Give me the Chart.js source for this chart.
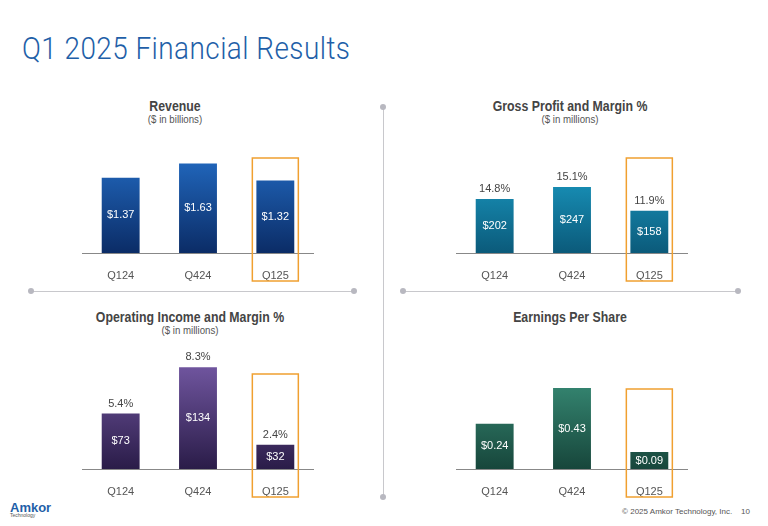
<!DOCTYPE html>
<html lang="en">
<head>
<meta charset="UTF-8">
<title>Q1 2025 Financial Results</title>
<style>
    body{ margin:0; width:768px; height:526px; background:#fff; position:relative; overflow:hidden;
          font-family:'Liberation Sans Narrow','Liberation Sans',Arial,sans-serif; }
    h1{ position:absolute; left:22px; top:30px; margin:0; font-family:Roboto,'Open Sans',sans-serif;
        font-weight:300; font-size:31px; color:#1f5fa8; letter-spacing:0.5px;
        transform:scaleX(0.9); transform-origin:left top; white-space:nowrap; }
    .ttl{ position:absolute; text-align:center; font-weight:bold; font-size:14px; color:#444;
          transform:scaleX(0.88); }
    .ttl span{ display:block; font-weight:normal; font-size:11px; color:#555; margin-top:-1px; }
    canvas{ position:absolute; }
    .hl,.vl{ position:absolute; background:#c8c8cc; }
    .dot{ position:absolute; width:6px; height:6px; border-radius:3px; background:#b8b8c0; }
    #foot{ position:absolute; right:18px; top:507px; font-size:8px; color:#555; }
    #logo{ position:absolute; left:10px; top:500px; font-family:'Liberation Sans',Arial; font-weight:bold;
           font-size:13px; color:#1f5fa8; }
    #logo small{ display:block; font-size:5px; color:#555; margin-top:-3px; font-weight:normal; }
</style>
</head>
<body>
<h1>Q1 2025 Financial Results</h1>

<div class="ttl" style="left:80px;width:190px;top:98px">Revenue<span>($ in billions)</span></div>
<div class="ttl" style="left:470px;width:200px;top:98px">Gross Profit and Margin %<span>($ in millions)</span></div>
<div class="ttl" style="left:80px;width:220px;top:309px">Operating Income and Margin %<span>($ in millions)</span></div>
<div class="ttl" style="left:470px;width:200px;top:309px">Earnings Per Share</div>

<div class="hl" style="left:32px;top:291px;width:322px;height:1px"></div>
<div class="dot" style="left:28px;top:288px"></div><div class="dot" style="left:351px;top:288px"></div>
<div class="hl" style="left:404px;top:291px;width:334px;height:1px"></div>
<div class="dot" style="left:400px;top:288px"></div><div class="dot" style="left:735px;top:288px"></div>
<div class="vl" style="left:383px;top:108px;width:1px;height:390px"></div>
<div class="dot" style="left:380px;top:104px"></div><div class="dot" style="left:380px;top:494px"></div>

<canvas id="rev" style="left:82px;top:120px"></canvas>
<canvas id="gp" style="left:456px;top:120px"></canvas>
<canvas id="op" style="left:82px;top:336px"></canvas>
<canvas id="eps" style="left:456px;top:336px"></canvas>

<div id="logo">Amkor<small>Technology</small></div>
<div id="foot">© 2025 Amkor Technology, Inc.&nbsp;&nbsp;&nbsp;&nbsp;10</div>

<script src="https://cdn.jsdelivr.net/npm/chart.js"></script>
<script>
    // quarters and values
    const quarters = ['Q124', 'Q424', 'Q125'];
    const revenue = [1.37, 1.63, 1.32];
    const grossProfit = [202, 247, 158];
    const grossMargin = [14.8, 15.1, 11.9];
    const opIncome = [73, 134, 32];
    const opMargin = [5.4, 8.3, 2.4];
    const eps = [0.24, 0.43, 0.09];

    const FONT = "'Liberation Sans Narrow','Liberation Sans',Arial,sans-serif";

    // labels inside / above the bars and the orange box around the latest quarter
    const labelPlugin = {
        id: 'labels',
        afterDatasetsDraw(chart, args, opts) {
            const ctx = chart.ctx;
            const meta = chart.getDatasetMeta(0);
            const x = chart.scales.x;
            ctx.save();
            ctx.textAlign = 'center';
            ctx.textBaseline = 'middle';
            meta.data.forEach((bar, i) => {
                ctx.font = '11px ' + FONT;
                ctx.fillStyle = '#fff';
                ctx.fillText(opts.fmt(chart.data.datasets[0].data[i]), bar.x, (bar.y + bar.base) / 2);
                if (opts.margins) {
                    ctx.fillStyle = '#444';
                    ctx.fillText(opts.margins[i].toFixed(1) + '%', bar.x, bar.y - 10);
                }
            });
            const cx = x.getPixelForValue(2);
            ctx.strokeStyle = '#f0a030';
            ctx.lineWidth = 1.5;
            ctx.strokeRect(cx - 23, opts.boxTop, 46, chart.height - 2 - opts.boxTop);
            ctx.restore();
        }
    };

    function makeChart(id, data, max, top, bot, fmt, margins, boxTop) {
        const el = document.getElementById(id);
        el.width = 232; el.height = 163;
        new Chart(el, {
            type: 'bar',
            data: {
                labels: quarters,
                datasets: [{
                    data: data,
                    backgroundColor: (c) => {
                        const a = c.chart.chartArea;
                        if (!a) return top;
                        const g = c.chart.ctx.createLinearGradient(0, a.top, 0, a.bottom);
                        g.addColorStop(0, top);
                        g.addColorStop(1, bot);
                        return g;
                    },
                    barPercentage: 0.49,
                    categoryPercentage: 1
                }]
            },
            options: {
                responsive: false,
                animation: false,
                layout: { padding: 0 },
                scales: {
                    x: {
                        afterFit(s) { s.height = 30; },
                        grid: { display: false },
                        border: { color: '#888', width: 1 },
                        ticks: { color: '#555', font: { size: 11, family: FONT }, padding: 8 }
                    },
                    y: { display: false, min: 0, max: max }
                },
                plugins: {
                    legend: { display: false },
                    tooltip: { enabled: false },
                    labels: { fmt: fmt, margins: margins, boxTop: boxTop }
                }
            },
            plugins: [labelPlugin]
        });
    }

    const usd2 = v => '$' + v.toFixed(2);
    const usd0 = v => '$' + v;
    makeChart('rev', revenue, 2.42, '#2a7fe0', '#0b2c66', usd2, null, 38);
    makeChart('gp', grossProfit, 498, '#22bbe8', '#0b5a7a', usd0, grossMargin, 38);
    makeChart('op', opIncome, 175, '#8466b8', '#2a1c48', usd0, opMargin, 38);
    makeChart('eps', eps, 0.707, '#45a88e', '#17463b', usd2, null, 53);
</script>
</body>
</html>
